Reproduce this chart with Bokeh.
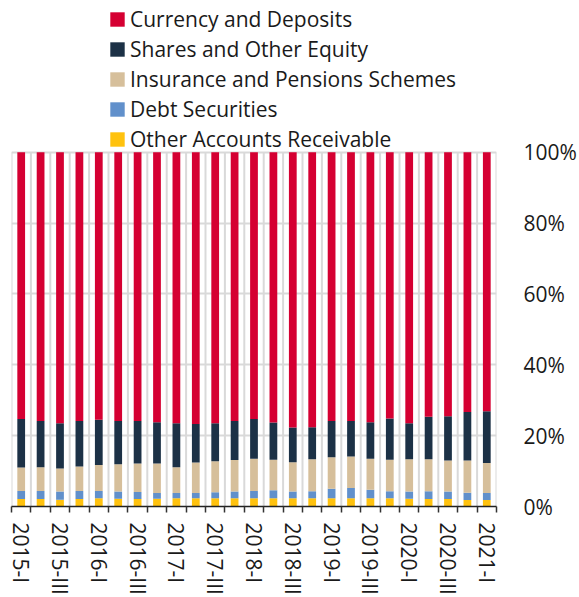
from bokeh.plotting import figure
from bokeh.models import (ColumnDataSource, FixedTicker, Legend, LegendItem,
                          Range1d, PrintfTickFormatter)
from bokeh.embed import file_html
from bokeh.resources import INLINE

quarters = []
for yr in range(2015, 2022):
    for q in ["I", "II", "III", "IV"]:
        quarters.append(f"{yr}-{q}")
quarters = quarters[:25]

other_accounts = [2.1, 2.1, 1.9, 2.1, 2.3, 2.2, 2.1, 2.2, 2.3, 2.3, 2.3, 2.3, 2.3,
                  2.3, 2.3, 2.3, 2.3, 2.3, 2.3, 2.3, 2.2, 2.1, 2.1, 1.8, 1.8]
debt_securities = [2.3, 2.3, 2.3, 2.3, 2.1, 2.0, 2.0, 1.6, 1.5, 1.5, 1.7, 1.9, 2.1,
                   2.3, 1.9, 2.0, 2.7, 2.9, 2.4, 2.0, 2.0, 2.2, 2.1, 2.1, 2.0]
insurance = [6.6, 6.7, 6.5, 6.9, 7.3, 7.7, 8.0, 8.3, 7.3, 8.6, 8.8, 8.9, 9.1,
             8.6, 8.3, 9.0, 8.9, 8.9, 8.8, 8.9, 9.1, 9.0, 8.8, 9.1, 8.5]
shares = [13.7, 13.0, 12.8, 12.8, 12.8, 12.2, 12.0, 11.7, 12.4, 10.9, 10.7, 11.0, 11.2,
          10.5, 9.8, 9.1, 10.2, 10.0, 10.3, 11.6, 10.2, 12.0, 12.5, 13.7, 14.6]
currency = [75.3, 75.9, 76.5, 75.9, 75.5, 75.9, 75.9, 76.2, 76.5, 76.7, 76.5, 75.9, 75.3,
            76.3, 77.7, 77.6, 75.9, 75.9, 76.2, 75.2, 76.5, 74.7, 74.5, 73.3, 73.1]

series_names = ["Other Accounts Receivable", "Debt Securities",
                "Insurance and Pensions Schemes", "Shares and Other Equity",
                "Currency and Deposits"]
colors = ["#FFC20E", "#6190CB", "#D6BF9B", "#1C3146", "#D50032"]
y_ticks = [0, 20, 40, 60, 80, 100]

n = len(quarters)
src = ColumnDataSource(dict(
    x=list(range(n)),
    other=other_accounts, debt=debt_securities, ins=insurance,
    shares=shares, cur=currency,
))
keys = ["other", "debt", "ins", "shares", "cur"]

FONT = "Open Sans"
TXT = "#1a1a1a"
Y_TOP = 142.8  # headroom above 100% holds the legend inside the frame

p = figure(width=579, height=597, x_range=Range1d(-0.5, n - 0.5), y_range=Range1d(0, Y_TOP),
           output_backend="svg", toolbar_location=None, y_axis_location="right",
           min_border_left=11, min_border_right=76, min_border_top=0, min_border_bottom=0,
           outline_line_color=None)

# vertical separators between categories (from 0% to 100%)
bounds = [i - 0.5 for i in range(n + 1)]
p.segment(x0=bounds, y0=[0] * len(bounds), x1=bounds, y1=[100] * len(bounds),
          line_color="#d9d9d9", line_width=2)

rs = p.vbar_stack(keys, x="x", width=0.4, source=src, color=colors, line_color=None)

xt = FixedTicker(ticks=list(range(0, n, 2)), minor_ticks=bounds)
p.xaxis.ticker = xt
p.xaxis.major_label_overrides = {i: quarters[i] for i in range(0, n, 2)}
p.xaxis.major_label_orientation = "vertical"
p.xaxis.major_tick_line_color = None
p.xaxis.major_tick_out = 6
p.xaxis.major_tick_in = 0
p.xaxis.minor_tick_out = 6
p.xaxis.minor_tick_in = 0
p.xaxis.minor_tick_line_color = "#333333"
p.xaxis.minor_tick_line_width = 1.5
p.xaxis.axis_line_color = "#222222"
p.xaxis.axis_line_width = 1.5
p.xaxis.major_label_text_font = FONT
p.xaxis.major_label_text_font_size = "21px"
p.xaxis.major_label_text_color = TXT
p.xaxis.major_label_standoff = 10
p.xgrid.grid_line_color = None

yt = FixedTicker(ticks=y_ticks, minor_ticks=[])
p.yaxis.ticker = yt
p.yaxis.formatter = PrintfTickFormatter(format="%d%%")
p.yaxis.axis_line_color = None
p.yaxis.major_tick_line_color = None
p.yaxis.minor_tick_line_color = None
p.yaxis.major_label_text_font = FONT
p.yaxis.major_label_text_font_size = "21px"
p.yaxis.major_label_text_color = TXT
p.yaxis.major_label_standoff = 21
p.ygrid.ticker = yt
p.ygrid.grid_line_color = "#d9d9d9"
p.ygrid.grid_line_width = 2

items = [LegendItem(label=series_names[i], renderers=[rs[i]]) for i in range(4, -1, -1)]
legend = Legend(items=items, location=(97, 353), orientation="vertical",
                label_text_font=FONT, label_text_font_size="21px", label_text_color=TXT,
                glyph_width=18, glyph_height=18, label_height=24, spacing=2,
                padding=0, margin=0, border_line_color=None, background_fill_alpha=0,
                label_standoff=4)
p.add_layout(legend, "center")

open("out.html", "w").write(file_html(p, INLINE))
